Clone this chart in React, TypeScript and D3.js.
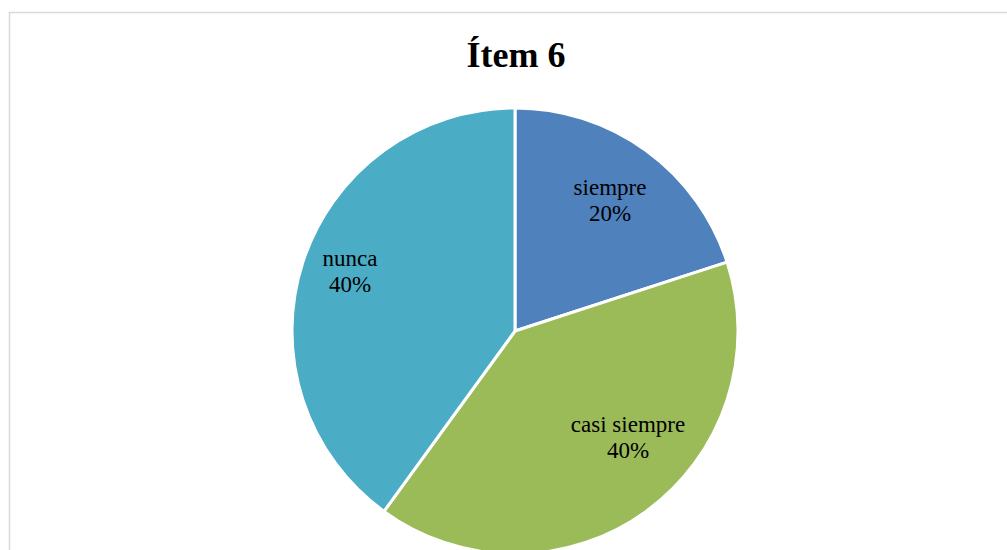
import React from "react";
import * as d3 from "d3";

const categories = ["siempre", "casi siempre", "nunca"];
const values = [20, 40, 40];
const colors = ["#4F81BD", "#9BBB59", "#4BACC6"];
const title = "Ítem 6";

// best-fit label nudges (Excel-style), kept separate from data
const labelNudges: [number, number][] = [[-2, 2], [16, -28], [-8, -9]];

const W = 1007;
const H = 550;
const cx = 515;
const cy = 331;
const R = 223;
const serif = "'Liberation Serif', 'Times New Roman', Times, serif";

export default function App() {
  const data = categories.map((c, i) => ({ name: c, value: values[i], color: colors[i], idx: i }));
  const total = d3.sum(values);
  const pie = d3.pie<any>().value((d: any) => d.value).sort(null);
  const arcs = pie(data);
  const arc = d3.arc<any>().innerRadius(0).outerRadius(R);
  const labelArc = d3.arc<any>().innerRadius(R * 0.74).outerRadius(R * 0.74);
  const fmt = d3.format(".0%");

  return (
    <svg width={W} height={H} style={{ position: "absolute", left: 0, top: 0, background: "#fff" }}>
      <rect x={9.5} y={12.5} width={W + 20} height={H + 20} fill="#fff" stroke="#d9d9d9" strokeWidth={1.5} />
      <text x={516} y={67} textAnchor="middle" style={{ fontFamily: serif }} fontWeight="bold" fontSize={36} fill="#000">
        {title}
      </text>
      <g transform={`translate(${cx},${cy})`}>
        {arcs.map((a, i) => (
          <path key={i} d={arc(a) as string} fill={a.data.color} stroke="#fff" strokeWidth={3} strokeLinejoin="round" />
        ))}
        {arcs.map((a, i) => {
          const [bx, by] = labelArc.centroid(a);
          const lx = bx + labelNudges[i][0];
          const ly = by + labelNudges[i][1];
          return (
            <text key={"l" + i} x={lx} y={ly} textAnchor="middle" style={{ fontFamily: serif }} fontSize={23} fill="#000">
              <tspan x={lx} dy={-5}>{a.data.name}</tspan>
              <tspan x={lx} dy={26}>{fmt(a.data.value / total)}</tspan>
            </text>
          );
        })}
      </g>
    </svg>
  );
}
